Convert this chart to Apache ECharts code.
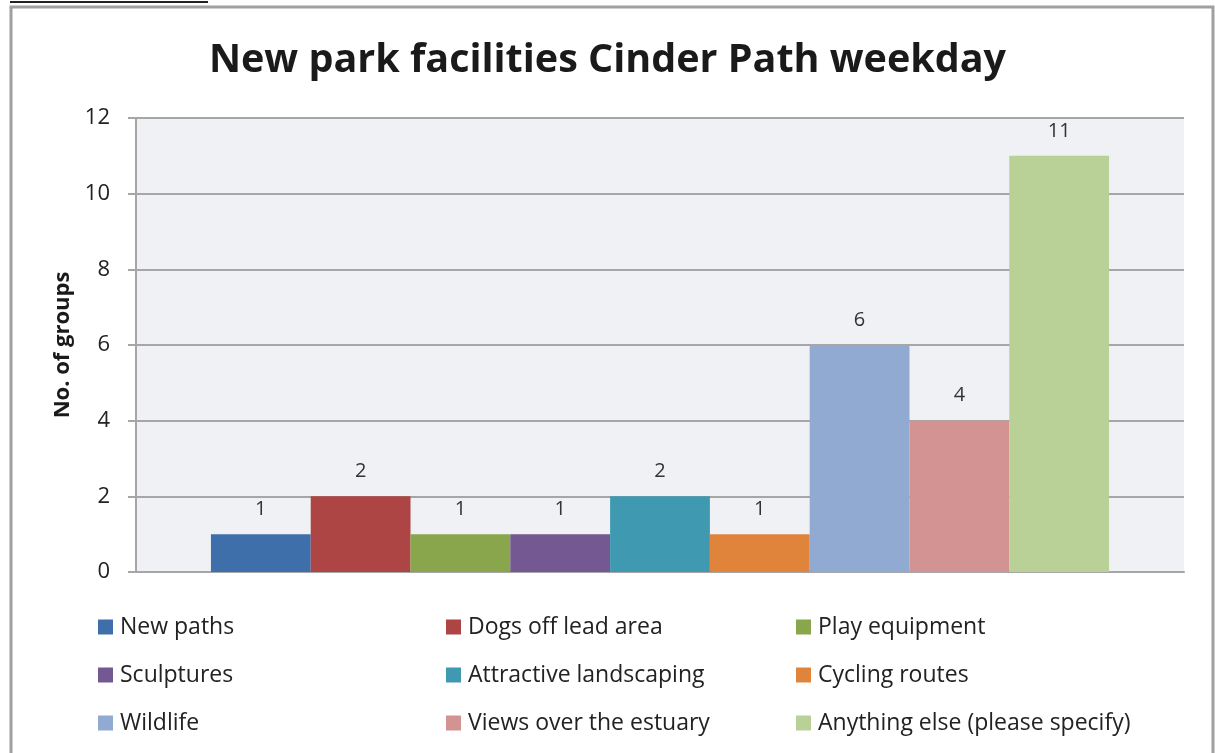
<!DOCTYPE html>
<html><head><meta charset="utf-8">
<script src="https://cdn.jsdelivr.net/npm/echarts@6/dist/echarts.min.js"></script>
<style>html,body{margin:0;padding:0;background:#fff}#c{width:1215px;height:753px}</style>
</head><body><div id="c"></div>
<script>
const title = 'New park facilities Cinder Path weekday';
const yAxisName = 'No. of groups';
const category = [''];
const seriesNames = ['New paths','Dogs off lead area','Play equipment','Sculptures','Attractive landscaping','Cycling routes','Wildlife','Views over the estuary','Anything else (please specify)'];
const seriesValues = [1,2,1,1,2,1,6,4,11];
const colors = ['#3F6FAA','#AC4543','#89A64C','#735891','#3F99B0','#E0843B','#91AAD2','#D39392','#B9D096'];
const yTicks = {min:0,max:12,interval:2};

const FONT = 'Open Sans';
const chart = echarts.init(document.getElementById('c'));
const series = seriesNames.map((n,i)=>({
  name:n, type:'bar', data:[seriesValues[i]],
  itemStyle:{color:colors[i]},
  barGap:'0%', barCategoryGap:'14.3%',
  label:{show:true, position:'top', distance:15, color:'#333', fontSize:20, fontFamily:FONT},
  animation:false
}));
const legendCol = (names,left)=>({
  orient:'vertical', left:left, top:615, padding:0, itemGap:24, itemWidth:15, itemHeight:15,
  icon:'rect', data:names, selectedMode:false,
  textStyle:{fontFamily:FONT, fontSize:23, lineHeight:24, color:'#222', padding:[0,0,0,2]}
});
chart.setOption({
  animation:false,
  color:colors,
  title:{text:title, left:'center', top:36, textStyle:{fontFamily:FONT, fontWeight:'bold', fontSize:39.5, color:'#1a1a1a'}},
  grid:{left:136, right:31, top:118, bottom:181, show:true, backgroundColor:'#F0F1F4', borderWidth:0},
  legend:[
    legendCol([seriesNames[0],seriesNames[3],seriesNames[6]], 98),
    legendCol([seriesNames[1],seriesNames[4],seriesNames[7]], 446),
    legendCol([seriesNames[2],seriesNames[5],seriesNames[8]], 796)
  ],
  xAxis:{type:'category', data:category, axisLabel:{show:false}, axisTick:{show:false},
    axisLine:{lineStyle:{color:'#A6A6A6', width:2}}},
  yAxis:{type:'value', min:yTicks.min, max:yTicks.max, interval:yTicks.interval,
    name:yAxisName, nameLocation:'middle', nameGap:62, nameRotate:90,
    nameTextStyle:{fontFamily:FONT, fontWeight:'bold', fontSize:22, color:'#1a1a1a'},
    axisLine:{show:true, lineStyle:{color:'#A6A6A6', width:2}},
    axisTick:{show:true, length:8, lineStyle:{color:'#A6A6A6', width:2}},
    axisLabel:{fontFamily:FONT, fontSize:22, color:'#222', margin:26},
    splitLine:{lineStyle:{color:'#A6A6A6', width:2}}},
  graphic:[
    {type:'rect', shape:{x:11, y:7, width:1202, height:760}, style:{fill:null, stroke:'#A0A0A0', lineWidth:3}, silent:true},
    {type:'rect', shape:{x:10, y:1, width:198, height:2}, style:{fill:'#222'}, silent:true}
  ],
  series:series
});
</script></body></html>
